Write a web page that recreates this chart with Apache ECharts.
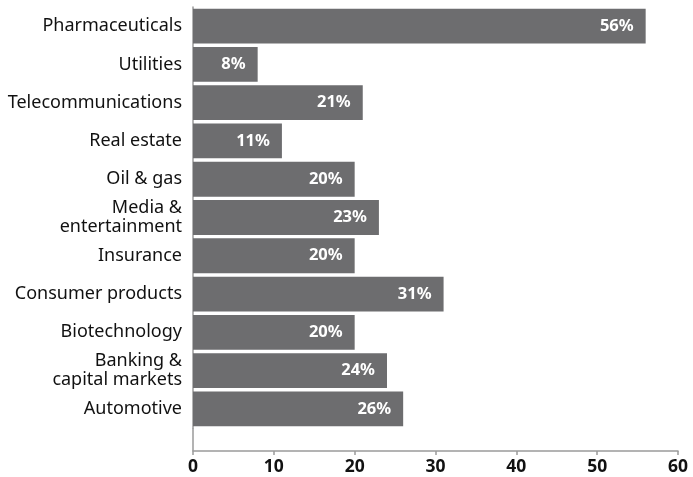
<!DOCTYPE html>
<html>
<head>
<meta charset="utf-8">
<script src="https://cdn.jsdelivr.net/npm/echarts@6/dist/echarts.min.js"></script>
<style>
  html, body { margin: 0; padding: 0; background: #fff; }
  #chart { width: 693px; height: 477px; }
</style>
</head>
<body>
<div id="chart"></div>
<script>
// sectors, top to bottom
var sectors = [
  "Pharmaceuticals",
  "Utilities",
  "Telecommunications",
  "Real estate",
  "Oil & gas",
  "Media &\nentertainment",
  "Insurance",
  "Consumer products",
  "Biotechnology",
  "Banking &\ncapital markets",
  "Automotive"
];
var shares = [56, 8, 21, 11, 20, 23, 20, 31, 20, 24, 26];
var xTicks = [0, 60, 10]; // min, max, interval

var font = "'Noto Sans', 'Open Sans', sans-serif";
var chart = echarts.init(document.getElementById("chart"));

chart.setOption({
  backgroundColor: "#fff",
  animation: false,
  grid: { left: 193, right: 15, top: 7, bottom: 49 },
  xAxis: {
    type: "value",
    min: xTicks[0],
    max: xTicks[1],
    interval: xTicks[2],
    offset: 23,
    axisLine: { show: true, lineStyle: { color: "#9a9a9a", width: 1.5 } },
    axisTick: { show: true, length: 4, lineStyle: { color: "#9a9a9a", width: 1.5 } },
    splitLine: { show: false },
    axisLabel: {
      color: "#111",
      fontFamily: font,
      fontWeight: "bold",
      fontSize: 17.5,
      margin: 7
    }
  },
  yAxis: {
    type: "category",
    data: sectors,
    inverse: true,
    axisLine: { show: true, lineStyle: { color: "#9a9a9a", width: 1.5 } },
    axisTick: { show: false },
    axisLabel: {
      color: "#111",
      fontFamily: font,
      fontSize: 18,
      lineHeight: 19,
      margin: 11,
      align: "right"
    }
  },
  // extend the left axis line down to the offset x axis
  graphic: [{
    type: "line",
    shape: { x1: 193, y1: 428, x2: 193, y2: 451 },
    style: { stroke: "#9a9a9a", lineWidth: 1.5 }
  }],
  series: [{
    type: "bar",
    data: shares,
    barCategoryGap: "9%",
    itemStyle: { color: "#6d6d6f" },
    label: {
      show: true,
      position: "insideRight",
      distance: 12,
      formatter: "{c}%",
      color: "#fff",
      fontFamily: font,
      fontWeight: "bold",
      fontSize: 16.5
    }
  }]
});
</script>
</body>
</html>
